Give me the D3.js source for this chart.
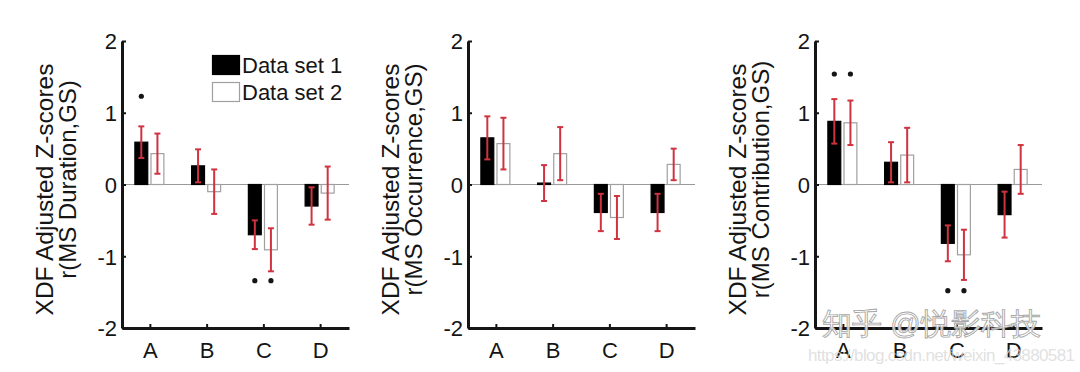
<!DOCTYPE html>
<html>
<head>
<meta charset="utf-8">
<script src="https://cdn.jsdelivr.net/npm/d3@7"></script>
<style>
  body { margin: 0; background: #fff; }
  text { font-family: "Liberation Sans", Arial, sans-serif; }
</style>
</head>
<body>
<svg id="chart" width="1080" height="372"></svg>
<script>
// categories and tick labels
const categories = ["A", "B", "C", "D"];
const yTicks = [-2, -1, 0, 1, 2];
const legendLabels = ["Data set 1", "Data set 2"];

// MS Duration
const durationSet1 = [0.59, 0.26, -0.70, -0.30];
const durationErr1 = [0.22, 0.23, 0.20, 0.26];
const durationSet2 = [0.43, -0.10, -0.91, -0.12];
const durationErr2 = [0.28, 0.31, 0.30, 0.37];
const durationStars = [["A", 0, 1.23], ["C", 0, -1.34], ["C", 1, -1.34]];

// MS Occurrence
const occurrenceSet1 = [0.65, 0.02, -0.39, -0.39];
const occurrenceErr1 = [0.30, 0.25, 0.26, 0.26];
const occurrenceSet2 = [0.57, 0.43, -0.46, 0.28];
const occurrenceErr2 = [0.36, 0.37, 0.30, 0.22];
const occurrenceStars = [];

// MS Contribution
const contributionSet1 = [0.88, 0.31, -0.82, -0.42];
const contributionErr1 = [0.31, 0.28, 0.25, 0.32];
const contributionSet2 = [0.86, 0.41, -0.98, 0.21];
const contributionErr2 = [0.31, 0.38, 0.35, 0.34];
const contributionStars = [["A", 0, 1.54], ["A", 1, 1.54], ["C", 0, -1.48], ["C", 1, -1.48]];

const panels = [
  {x0: 122, label: "r(MS Duration,GS)", s1: durationSet1, e1: durationErr1, s2: durationSet2, e2: durationErr2, stars: durationStars, legend: true},
  {x0: 468, label: "r(MS Occurrence,GS)", s1: occurrenceSet1, e1: occurrenceErr1, s2: occurrenceSet2, e2: occurrenceErr2, stars: occurrenceStars},
  {x0: 815, label: "r(MS Contribution,GS)", s1: contributionSet1, e1: contributionErr1, s2: contributionSet2, e2: contributionErr2, stars: contributionStars}
];

const svg = d3.select("#chart");
svg.append("rect").attr("width", 1080).attr("height", 372).attr("fill", "#fff");

const y = d3.scaleLinear().domain([-2, 2]).range([328, 41]);
const red = "#cf3340";
const ink = "#151515";

panels.forEach(function(p){
  const x = d3.scaleBand().domain(categories).range([p.x0, p.x0 + 227]);
  const sub = d3.scaleBand().domain([0, 1]).range([-15.5, 13.5]).paddingInner(0.2);
  const g = svg.append("g");

  // zero line
  g.append("line")
    .attr("x1", p.x0).attr("x2", p.x0 + 227)
    .attr("y1", y(0)).attr("y2", y(0))
    .attr("stroke", "#9a9a9a").attr("stroke-width", 1.2);

  const rows = [];
  categories.forEach(function(c, i){
    rows.push({cat: c, set: 0, v: p.s1[i], e: p.e1[i]});
    rows.push({cat: c, set: 1, v: p.s2[i], e: p.e2[i]});
  });
  const cx = d => x(d.cat) + x.bandwidth() / 2 + sub(d.set) + sub.bandwidth() / 2;

  g.selectAll("rect.bar").data(rows).join("rect")
    .attr("class", "bar")
    .attr("x", d => x(d.cat) + x.bandwidth() / 2 + sub(d.set))
    .attr("width", sub.bandwidth())
    .attr("y", d => y(Math.max(0, d.v)))
    .attr("height", d => Math.abs(y(d.v) - y(0)))
    .attr("fill", d => d.set === 0 ? "#000" : "#fff")
    .attr("stroke", d => d.set === 0 ? "#000" : "#a0a0a0")
    .attr("stroke-width", 1.2);

  // error bars
  g.selectAll("line.err").data(rows).join("line")
    .attr("class", "err")
    .attr("x1", cx).attr("x2", cx)
    .attr("y1", d => y(d.v + d.e)).attr("y2", d => y(d.v - d.e))
    .attr("stroke", red).attr("stroke-width", 2);
  [1, -1].forEach(function(sg){
    g.selectAll("line.cap" + (sg > 0 ? "t" : "b")).data(rows).join("line")
      .attr("class", "cap" + (sg > 0 ? "t" : "b"))
      .attr("x1", d => cx(d) - 3).attr("x2", d => cx(d) + 3)
      .attr("y1", d => y(d.v + sg * d.e)).attr("y2", d => y(d.v + sg * d.e))
      .attr("stroke", red).attr("stroke-width", 2);
  });

  // significance markers
  g.selectAll("circle.star").data(p.stars).join("circle")
    .attr("class", "star")
    .attr("cx", d => x(d[0]) + x.bandwidth() / 2 + sub(d[1]) + sub.bandwidth() / 2)
    .attr("cy", d => y(d[2]))
    .attr("r", 2.6).attr("fill", ink);

  // axes
  const ya = g.append("g").attr("transform", "translate(" + p.x0 + ",0)")
    .call(d3.axisLeft(y).tickValues(yTicks).tickFormat(d => String(d)).tickSize(-4).tickSizeOuter(0).tickPadding(5));
  const xa = g.append("g").attr("transform", "translate(0," + y(-2) + ")")
    .call(d3.axisBottom(x).tickSize(-4).tickSizeOuter(0).tickPadding(14));
  [ya, xa].forEach(function(a){
    a.select(".domain").attr("stroke", ink).attr("stroke-width", 3);
    a.selectAll(".tick line").attr("stroke", ink).attr("stroke-width", 2);
    a.selectAll(".tick text").attr("font-size", 22).attr("fill", ink)
      .attr("font-family", "Liberation Sans, Arial, sans-serif");
  });
  ya.selectAll(".tick text").attr("dy", "0.36em");

  // y label
  const mid = (y(2) + y(-2)) / 2;
  g.append("text")
    .attr("transform", "translate(" + (p.x0 - 69) + "," + (mid + 5) + ") rotate(-90)")
    .attr("text-anchor", "middle").attr("font-size", 24.5).attr("fill", ink)
    .text("XDF Adjusted Z-scores");
  g.append("text")
    .attr("transform", "translate(" + (p.x0 - 46) + "," + (mid - 5) + ") rotate(-90)")
    .attr("text-anchor", "middle").attr("font-size", 24).attr("fill", ink)
    .text(p.label);

  if(p.legend){
    const lg = g.append("g");
    legendLabels.forEach(function(t, i){
      lg.append("rect")
        .attr("x", 212.5).attr("y", 55.5 + i * 27)
        .attr("width", 27).attr("height", 19)
        .attr("fill", i === 0 ? "#000" : "#fff")
        .attr("stroke", i === 0 ? "#000" : "#a0a0a0").attr("stroke-width", 1.2);
      lg.append("text")
        .attr("x", 242).attr("y", 73 + i * 27)
        .attr("font-size", 22).attr("fill", ink)
        .text(t);
    });
  }
});

// watermark
svg.append("text")
  .attr("x", 822).attr("y", 334)
  .attr("font-family", "Noto Sans CJK SC").attr("font-size", 30)
  .attr("fill", "#fff").attr("fill-opacity", 0.85)
  .attr("stroke", "#a8a8a8").attr("stroke-width", 0.9)
  .text("知乎 @悦影科技");
svg.append("text")
  .attr("x", 808).attr("y", 361)
  .attr("font-size", 17).attr("fill", "#d9d9d9").attr("fill-opacity", 0.8)
  .attr("textLength", 267)
  .text("https://blog.csdn.net/weixin_43880581");
</script>
</body>
</html>
